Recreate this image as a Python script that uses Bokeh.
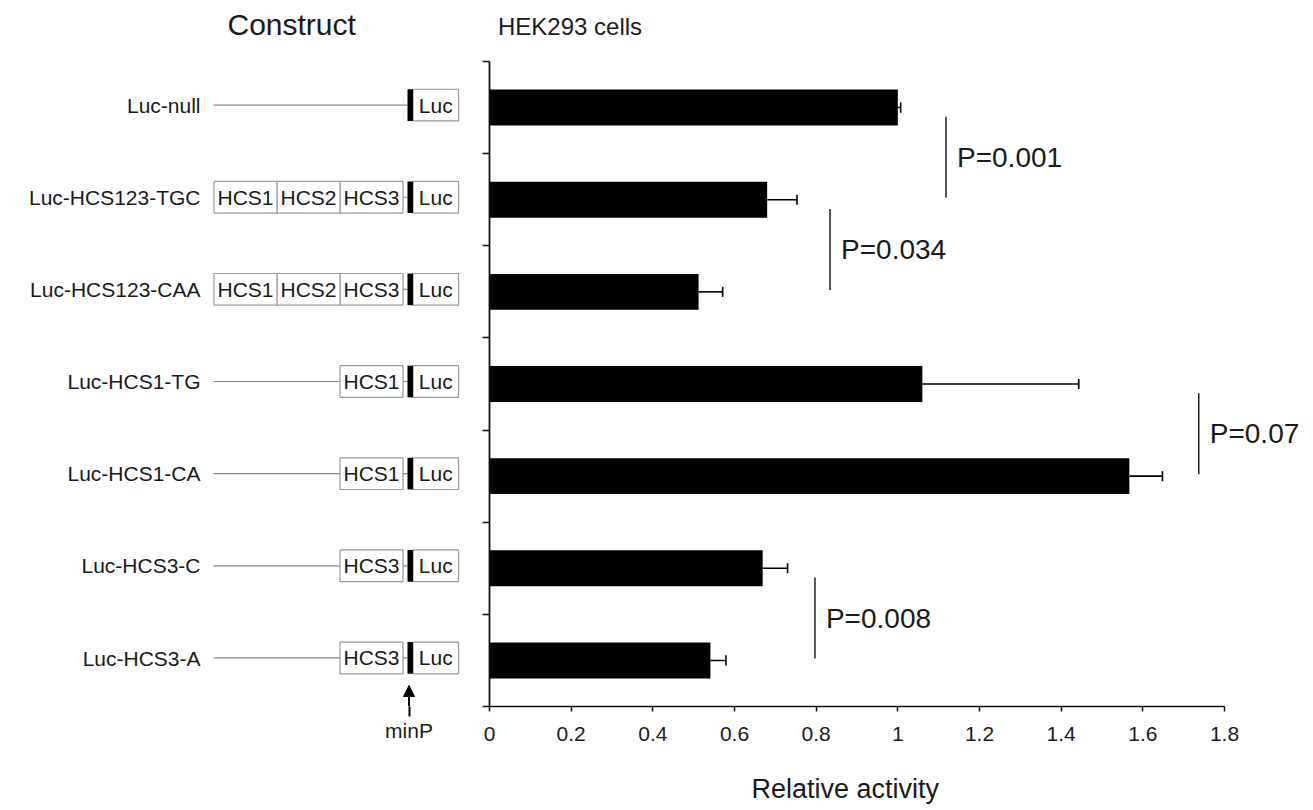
from bokeh.plotting import figure
from bokeh.layouts import row
from bokeh.models import Range1d, FixedTicker, Arrow, NormalHead, Title
from bokeh.core.properties import value
from bokeh.embed import file_html
from bokeh.resources import INLINE

# ---------------- data ----------------
constructs = ["Luc-null", "Luc-HCS123-TGC", "Luc-HCS123-CAA", "Luc-HCS1-TG",
              "Luc-HCS1-CA", "Luc-HCS3-C", "Luc-HCS3-A"]
elements = [[], ["HCS1", "HCS2", "HCS3"], ["HCS1", "HCS2", "HCS3"], ["HCS1"],
            ["HCS1"], ["HCS3"], ["HCS3"]]
activity = [1.00, 0.68, 0.512, 1.06, 1.567, 0.669, 0.541]
error = [0.007, 0.073, 0.059, 0.383, 0.081, 0.061, 0.038]
x_ticks = [0, 0.2, 0.4, 0.6, 0.8, 1, 1.2, 1.4, 1.6, 1.8]
x_tick_labels = ["0", "0.2", "0.4", "0.6", "0.8", "1", "1.2", "1.4", "1.6", "1.8"]
p_upper = [0, 1, 3, 5]
p_lower = [1, 2, 4, 6]
p_labels = ["P=0.001", "P=0.034", "P=0.07", "P=0.008"]
p_x = [1.118, 0.834, 1.737, 0.797]

# ---------------- layout constants ----------------
FONT_NAME = "Liberation Sans"
FONT = value(FONT_NAME)
TXT = "#1a1a1a"
N = len(constructs)
W_LEFT, W_RIGHT, H = 469, 844, 810
FRAME_TOP_AXIS = 61      # pixel row of the top of the y axis
FRAME_BOTTOM = 706       # pixel row of the x axis
BOTTOM_PX = H - FRAME_BOTTOM
ROW_PX = (FRAME_BOTTOM - FRAME_TOP_AXIS) / N
Y_TOP = N + FRAME_TOP_AXIS / ROW_PX
X_PX = 735 / 1.8
BORDER_L = 20
X_END = (W_RIGHT - BORDER_L) / X_PX
MINP_X = 408.5


def ry(sy):
    return Y_TOP - sy / ROW_PX


ypos = [N - i - 0.5 for i in range(N)]

# ---------------- right: bar chart ----------------
p = figure(width=W_RIGHT, height=H, x_range=Range1d(0, X_END), y_range=Range1d(0, Y_TOP),
           output_backend="svg", toolbar_location=None,
           min_border_left=BORDER_L, min_border_right=0, min_border_top=0,
           min_border_bottom=BOTTOM_PX)
p.grid.visible = False
p.outline_line_color = None

p.hbar(y=ypos, left=0, right=activity, height=0.39, fill_color="black", line_color=None)
err_end = [a + e for a, e in zip(activity, error)]
p.segment(x0=activity, y0=ypos, x1=err_end, y1=ypos, line_color="black", line_width=1.6)
p.segment(x0=err_end, y0=[y - 0.055 for y in ypos], x1=err_end, y1=[y + 0.055 for y in ypos],
          line_color="black", line_width=1.6)

b_y0 = [ypos[lo] + 0.02 for lo in p_lower]
b_y1 = [ypos[up] - 0.1 for up in p_upper]
p.segment(x0=p_x, y0=b_y0, x1=p_x, y1=b_y1, line_color="#222222", line_width=1.5)
p.text(x=p_x, y=[(a + b) / 2 for a, b in zip(b_y0, b_y1)], text=p_labels, x_offset=11,
       text_align="left", text_baseline="middle", text_font=FONT,
       text_font_size="28px", text_color=TXT)

p.text(x=[0], y=[ry(26)], text=["HEK293 cells"], x_offset=8.5, text_align="left",
       text_baseline="middle", text_font=FONT, text_font_size="24px", text_color=TXT)

xa = p.xaxis[0]
xa.ticker = FixedTicker(ticks=x_ticks)
xa.major_label_overrides = dict(zip(x_ticks, x_tick_labels))
xa.bounds = (0, 1.8)
xa.axis_line_width = 1.5
xa.axis_line_color = "#111111"
xa.major_tick_line_width = 1.5
xa.major_tick_line_color = "#111111"
xa.major_tick_out = 5
xa.major_tick_in = 0
xa.minor_tick_line_color = None
xa.major_label_text_font = FONT_NAME
xa.major_label_text_font_size = "21px"
xa.major_label_text_color = TXT
xa.major_label_standoff = 15
# blank axis label used only as vertical spacing before the axis title
xa.axis_label = " "
xa.axis_label_text_font_size = "10px"
xa.axis_label_standoff = 16

p.add_layout(Title(text="Relative activity", align="left", offset=262,
                   vertical_align="top", standoff=0, text_font=FONT_NAME,
                   text_font_size="27px", text_font_style="normal", text_color=TXT),
             "below")

ya = p.yaxis[0]
ya.ticker = FixedTicker(ticks=list(range(N + 1)))
ya.major_label_overrides = {i: "" for i in range(N + 1)}
ya.bounds = (0, N)
ya.axis_line_width = 1.8
ya.axis_line_color = "#111111"
ya.major_tick_line_width = 1.5
ya.major_tick_line_color = "#111111"
ya.major_tick_out = 7
ya.major_tick_in = 0
ya.minor_tick_line_color = None
ya.major_label_standoff = 0

# ---------------- left: constructs ----------------
lf = figure(width=W_LEFT, height=H, x_range=Range1d(0, W_LEFT),
            y_range=Range1d(0, Y_TOP), output_backend="svg",
            toolbar_location=None, y_axis_location=None,
            min_border_left=0, min_border_right=0, min_border_top=0,
            min_border_bottom=BOTTOM_PX)
lf.grid.visible = False
lf.outline_line_color = None

lf.text(x=[200] * N, y=[y + 0.025 for y in ypos], text=constructs, text_align="right",
        text_baseline="middle", text_font=FONT, text_font_size="21px", text_color=TXT)

yb = [y + 0.027 for y in ypos]
BOX_H = 0.172
lf.segment(x0=[213] * N, y0=yb, x1=[407] * N, y1=yb, line_color="#8a8a8a", line_width=1.2)

bl, br, bt, bb, bx, by, bn = [], [], [], [], [], [], []
for i, els in enumerate(elements):
    for k, name in enumerate(reversed(els)):
        right = 402.5 - k * 63
        left = right - 63
        bl.append(left); br.append(right)
        bt.append(yb[i] + BOX_H); bb.append(yb[i] - BOX_H)
        bx.append((left + right) / 2); by.append(yb[i]); bn.append(name)
    bl.append(412.5); br.append(458)
    bt.append(yb[i] + BOX_H); bb.append(yb[i] - BOX_H)
    bx.append((412.5 + 458) / 2); by.append(yb[i]); bn.append("Luc")

lf.quad(left=bl, right=br, top=bt, bottom=bb, fill_color="white",
        line_color="#9a9a9a", line_width=1.2)
lf.quad(left=[407] * N, right=[412.5] * N, top=[y + BOX_H for y in yb],
        bottom=[y - BOX_H for y in yb], fill_color="black", line_color=None)
lf.text(x=bx, y=by, text=bn, text_align="center", text_baseline="middle",
        text_font=FONT, text_font_size="21px", text_color=TXT)

# minP arrow: head inside the frame, shaft continued by the axis tick below it
lf.add_layout(Arrow(end=NormalHead(size=11, fill_color="black", line_color="black"),
                    x_start=MINP_X, y_start=0, x_end=MINP_X, y_end=ry(685),
                    line_width=2, line_color="black"))
la = lf.xaxis[0]
la.ticker = FixedTicker(ticks=[MINP_X])
la.major_label_overrides = {MINP_X: "minP"}
la.axis_line_color = None
la.major_tick_out = 10
la.major_tick_in = 0
la.major_tick_line_width = 2
la.major_tick_line_color = "black"
la.minor_tick_line_color = None
la.major_label_text_font = FONT_NAME
la.major_label_text_font_size = "21px"
la.major_label_text_color = TXT
la.major_label_standoff = 2

lf.text(x=[227], y=[ry(24)], text=["Construct"], text_align="left",
        text_baseline="middle", text_font=FONT, text_font_size="30px", text_color=TXT)

layout = row(lf, p)
open("out.html", "w").write(file_html(layout, INLINE))
